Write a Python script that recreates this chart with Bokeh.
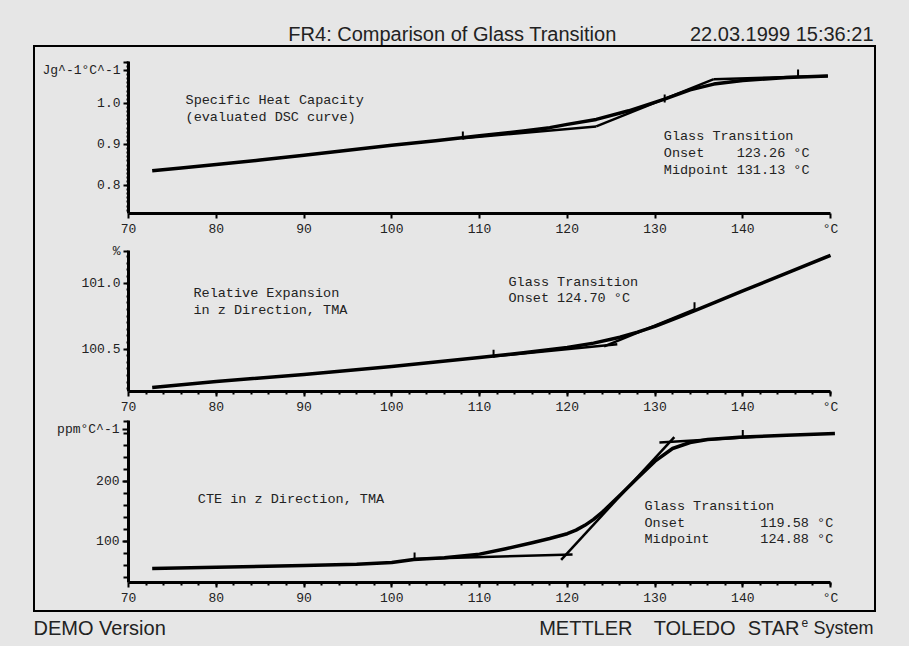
from bokeh.plotting import figure
from bokeh.layouts import column, row
from bokeh.models import Range1d, FixedTicker, GlobalInlineStyleSheet, Spacer
from bokeh.core.properties import value
from bokeh.embed import file_html
from bokeh.resources import INLINE

# ---------------- data ----------------
title_text = "FR4: Comparison of Glass Transition"
date_text = "22.03.1999 15:36:21"

x_ticks = [70, 80, 90, 100, 110, 120, 130, 140, 150]
x_labels = ["70", "80", "90", "100", "110", "120", "130", "140", "°C"]

# Specific heat capacity (DSC)
temp_cp = [72.7, 76, 80, 85, 90, 95, 100, 105, 110, 115, 118, 120, 123.3, 127, 131,
           134, 136.7, 140, 145, 149.7]
cp = [0.836, 0.843, 0.851, 0.862, 0.874, 0.886, 0.898, 0.909, 0.921, 0.933, 0.941,
      0.949, 0.961, 0.982, 1.010, 1.033, 1.047, 1.056, 1.063, 1.067]
cp_tan_x = [[108.1, 123.3], [123.3, 136.7], [136.7, 149.7]]
cp_tan_y = [[0.915, 0.944], [0.944, 1.059], [1.059, 1.067]]
cp_marks_x = [108.1, 131.1, 146.3]
cp_marks_y = [0.922, 1.012, 1.073]
cp_ticks = [0.8, 0.9, 1.0, 1.08, 1.1]
cp_labels = ["0.8", "0.9", "1.0", "Jg^-1°C^-1", ""]

# Relative expansion (TMA)
temp_dl = [72.7, 80, 90, 100, 110, 115, 120, 123, 126, 128, 130, 133, 136, 140, 145, 150]
dl = [100.209, 100.255, 100.308, 100.368, 100.437, 100.472, 100.512, 100.545, 100.590,
      100.628, 100.672, 100.750, 100.830, 100.940, 101.075, 101.210]
dl_tan_x = [[111.6, 125.7], [124.2, 134.5]]
dl_tan_y = [[100.445, 100.537], [100.520, 100.800]]
dl_marks_x = [111.6, 134.5]
dl_marks_y = [100.465, 100.825]
dl_ticks = [100.5, 101.0, 101.24]
dl_labels = ["100.5", "101.0", "%"]

# CTE (TMA)
temp_cte = [72.7, 80, 90, 96, 100, 102.5, 106, 110, 113, 116, 118, 120, 121, 122, 123,
            124, 126, 128, 130, 132, 134, 136, 140, 145, 150.5]
cte = [55, 57, 60, 62, 65, 70, 73, 79, 88, 98, 105, 113, 119, 127, 137, 149, 177, 206,
       234, 255, 265, 270, 274, 277, 280]
cte_tan_x = [[102.5, 120.6], [119.3, 132.2], [130.5, 142.0]]
cte_tan_y = [[71, 78.5], [69.5, 274], [265, 275]]
cte_marks_x = [102.6, 140.0]
cte_marks_y = [75, 279]
cte_ticks = [100, 200, 287]
cte_labels = ["100", "200", "ppm°C^-1"]

BG = "#e6e6e6"
TXT = "#222222"
MONO = "Liberation Mono"
SANS = "Liberation Sans"


def base_fig(width, height, xr, yr, **kw):
    p = figure(width=width, height=height, x_range=xr, y_range=yr,
               toolbar_location=None, output_backend="svg", **kw)
    p.background_fill_color = BG
    p.border_fill_color = BG
    p.outline_line_color = None
    p.grid.visible = False
    return p


def panel(height, top, bottom, y_start, y_end, yt, yl, y_minor, x_minor,
          y_minor_out, y_major_out):
    p = base_fig(839, height, Range1d(70, 155.01), Range1d(y_start, y_end),
                 min_border_left=93, min_border_right=0,
                 min_border_top=top, min_border_bottom=bottom)
    xa = p.xaxis[0]
    xa.bounds = (70, 150)
    xa.ticker = FixedTicker(ticks=x_ticks, minor_ticks=x_minor)
    xa.major_label_overrides = dict(zip(x_ticks, x_labels))
    ya = p.yaxis[0]
    ya.ticker = FixedTicker(ticks=yt, minor_ticks=y_minor)
    ya.major_label_overrides = dict(zip(yt, yl))
    for ax in (xa, ya):
        ax.axis_line_width = 3
        ax.axis_line_color = "black"
        ax.major_tick_line_width = 2
        ax.major_tick_in = 0
        ax.minor_tick_in = 0
        ax.minor_tick_line_width = 2
        ax.major_label_text_font = MONO
        ax.major_label_text_font_size = "13px"
        ax.major_label_text_color = TXT
        ax.major_label_standoff = 3
    xa.major_tick_out = 5
    xa.minor_tick_out = 3
    ya.major_tick_out = y_major_out
    ya.minor_tick_out = y_minor_out
    return p


def add_curve(p, xs, ys, tx, ty, mx, my):
    p.multi_line(tx, ty, line_color="black", line_width=2.5)
    p.line(xs, ys, line_color="black", line_width=3.5, line_join="round")
    p.scatter(mx, my, marker="dash", angle=1.5708, size=8, line_color="black",
              line_width=2)


def add_texts(p, xs, ys, texts, size="13.5px"):
    p.text(xs, ys, text=texts, text_font=value(MONO), text_font_size=size,
           text_color=TXT, text_baseline="middle", text_align="left")


# ---------------- header ----------------
hdr = base_fig(893, 37, Range1d(0, 893), Range1d(0, 37), min_border=0,
               x_axis_location=None, y_axis_location=None)
hdr.text([444], [12], text=[title_text], text_font=value(SANS), text_font_size="20px",
         text_color=TXT, text_align="center", text_baseline="middle")
hdr.text([865], [12], text=[date_text], text_font=value(SANS), text_font_size="20px",
         text_color=TXT, text_align="right", text_baseline="middle")

# ---------------- panel 1 ----------------
p1 = panel(192, 14, 26, 0.732, 1.102, cp_ticks, cp_labels,
           [0.74 + 0.01 * i for i in range(37)], [], 2, 5)
add_curve(p1, temp_cp, cp, cp_tan_x, cp_tan_y, cp_marks_x, cp_marks_y)
add_texts(p1, [76.5, 76.5], [1.007, 0.966],
          ["Specific Heat Capacity", "(evaluated DSC curve)"])
add_texts(p1, [131.0, 131.0, 131.0], [0.919, 0.878, 0.837],
          ["Glass Transition", "Onset", "Midpoint"])
add_texts(p1, [139.3, 139.3], [0.878, 0.837], ["123.26 °C", "131.13 °C"])

# ---------------- panel 2 ----------------
p2 = panel(178, 11, 24, 100.179, 101.246, dl_ticks, dl_labels,
           [100.2 + 0.05 * i for i in range(21)], [72 + 2 * i for i in range(40)], 2, 5)
add_curve(p2, temp_dl, dl, dl_tan_x, dl_tan_y, dl_marks_x, dl_marks_y)
add_texts(p2, [77.4, 77.4], [100.918, 100.791],
          ["Relative Expansion", "in z Direction, TMA"])
add_texts(p2, [113.3, 113.3], [101.007, 100.880],
          ["Glass Transition", "Onset 124.70 °C"])

# ---------------- panel 3 ----------------
p3 = panel(193, 3, 28, 31.7, 301.7, cte_ticks, cte_labels,
           [40 + 20 * i for i in range(14)], [72 + 2 * i for i in range(40)], 5, 6)
add_curve(p3, temp_cte, cte, cte_tan_x, cte_tan_y, cte_marks_x, cte_marks_y)
add_texts(p3, [77.9], [170.0], ["CTE in z Direction, TMA"])
add_texts(p3, [128.8, 128.8, 128.8], [158.4, 130.0, 103.4],
          ["Glass Transition", "Onset", "Midpoint"])
add_texts(p3, [142.0, 142.0], [130.0, 103.4], ["119.58 °C", "124.88 °C"])

box = column(p1, p2, p3, spacing=0,
             styles={"border": "2px solid black", "background-color": BG})
box_row = row(Spacer(width=25, height=10), box, spacing=0)

# ---------------- footer ----------------
ftr = base_fig(893, 30, Range1d(0, 893), Range1d(0, 30), min_border=0,
               x_axis_location=None, y_axis_location=None)
ftr.text([25], [15], text=["DEMO Version"], text_font=value(SANS), text_font_size="20px",
         text_color=TXT, text_align="left", text_baseline="middle")
ftr.text([624, 727, 791], [15, 15, 15], text=["METTLER", "TOLEDO", "STAR"],
         text_font=value(SANS), text_font_size="20px", text_color=TXT,
         text_align="right", text_baseline="middle")
ftr.text([793], [20], text=["e"], text_font=value(SANS), text_font_size="12px",
         text_color=TXT, text_align="left", text_baseline="middle")
ftr.text([865], [15], text=["System"], text_font=value(SANS), text_font_size="18px",
         text_color=TXT, text_align="right", text_baseline="middle")

inner = column(hdr, box_row, ftr, spacing=0)
page = row(Spacer(width=8, height=10), column(Spacer(width=10, height=8), inner, spacing=0),
           spacing=0,
           stylesheets=[GlobalInlineStyleSheet(css="body { background-color: #e6e6e6; }")])

open("out.html", "w").write(file_html(page, INLINE))
